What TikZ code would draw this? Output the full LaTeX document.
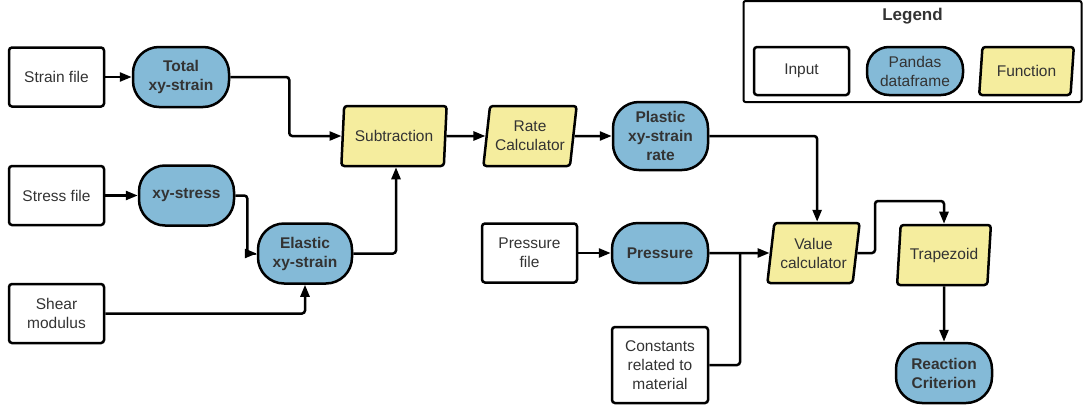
\documentclass[tikz,border=0pt]{standalone}
\usepackage{fontspec}
\setmainfont{Liberation Sans}
\usetikzlibrary{shapes.geometric,arrows.meta,calc}
\definecolor{dfblue}{RGB}{132,186,215}
\definecolor{fnyellow}{RGB}{245,237,158}
\definecolor{txt}{RGB}{51,51,51}
\tikzset{
  base/.style={draw=black, line width=2.5pt, text=txt, align=center,
    font=\fontsize{15.5}{19}\selectfont, inner sep=0pt},
  inputbox/.style={base, rounded corners=3pt, minimum width=95pt, minimum height=59pt},
  dfbox/.style={base, fill=dfblue, rounded corners=26pt, minimum width=96pt,
    minimum height=60pt, font=\fontsize{15.5}{19}\selectfont\bfseries},
  fnbox/.style={base, fill=fnyellow, trapezium, trapezium left angle=79,
    trapezium right angle=101, trapezium stretches=true, rounded corners=3pt,
    minimum width=106pt, minimum height=60pt},
  arr/.style={line width=2.5pt, -{Triangle[length=12pt,width=9pt]}, rounded corners=3pt},
  ln/.style={line width=2.5pt, rounded corners=3pt},
}
\begin{document}
\begin{tikzpicture}[x=1pt,y=-1pt]
\useasboundingbox (0,0) rectangle (1085,410);

% legend
\node[draw=black, line width=2pt, rounded corners=2pt, minimum width=338pt,
  minimum height=101pt, inner sep=0pt] (legend) at (912.5,51.5) {};
\node[text=txt, font=\fontsize{17}{20}\selectfont\bfseries] (legtitle) at (912.5,16) {Legend};
\node[inputbox, minimum height=48pt] (leginput) at (801.5,71) {Input};
\node[dfbox, rounded corners=22pt, minimum height=48pt, font=\fontsize{15.5}{19}\selectfont] (legdf) at (915,71) {Pandas\\dataframe};
\node[fnbox, minimum width=95pt, minimum height=48pt] (legfn) at (1026.5,71) {Function};

% nodes
\node[inputbox] (strain) at (56.5,77) {Strain file};
\node[dfbox] (total) at (181,77) {Total\\xy-strain};
\node[inputbox] (stress) at (56.5,195.5) {Stress file};
\node[dfbox, minimum width=95pt] (xystress) at (186.5,195.5) {xy-stress};
\node[dfbox, minimum width=94pt] (elastic) at (305,253.5) {Elastic\\xy-strain};
\node[inputbox] (shear) at (56.5,313.5) {Shear\\modulus};
\node[fnbox] (sub) at (394,136) {Subtraction};
\node[fnbox, minimum width=94pt] (rate) at (530,136) {Rate\\Calculator};
\node[dfbox, minimum width=95pt, minimum height=68pt] (plastic) at (660.5,136) {Plastic\\xy-strain\\rate};
\node[inputbox] (pfile) at (529.5,253) {Pressure\\file};
\node[dfbox] (pressure) at (660,253) {Pressure};
\node[inputbox, minimum width=96pt, minimum height=76pt] (const) at (660,365) {Constants\\related to\\material};
\node[fnbox, minimum width=93pt] (value) at (813.5,253) {Value\\calculator};
\node[fnbox, minimum width=94pt] (trap) at (944,255) {Trapezoid};
\node[dfbox] (reaction) at (944,373) {Reaction\\Criterion};

\coordinate (join) at (740,253);
\coordinate (vt) at (875,201);

% connectors
\draw[arr] (strain) -- (total);
\draw[arr] (total.east) -- ++(59,0) |- (sub.west);
\draw[arr] (stress) -- (xystress);
\draw[arr] (xystress.east) -- ++(12,0) |- (elastic.west);
\draw[arr] (shear.east) -| (elastic.south);
\draw[arr] (elastic.east) -| ($(sub.south)+(2,0)$);
\draw[arr] (sub.east) -- (rate.west);
\draw[arr] (rate.east) -- (plastic.west);
\draw[arr] (plastic.east) -| (value.top side);
\draw[arr] (pfile) -- (pressure);
\draw[arr] (pressure.east) -- (value.west);
\draw[ln] (const.east) -| (join);
\draw[arr] (value.east) -| (vt) -| (trap.north);
\draw[arr] (trap) -- (reaction);
\end{tikzpicture}
\end{document}
